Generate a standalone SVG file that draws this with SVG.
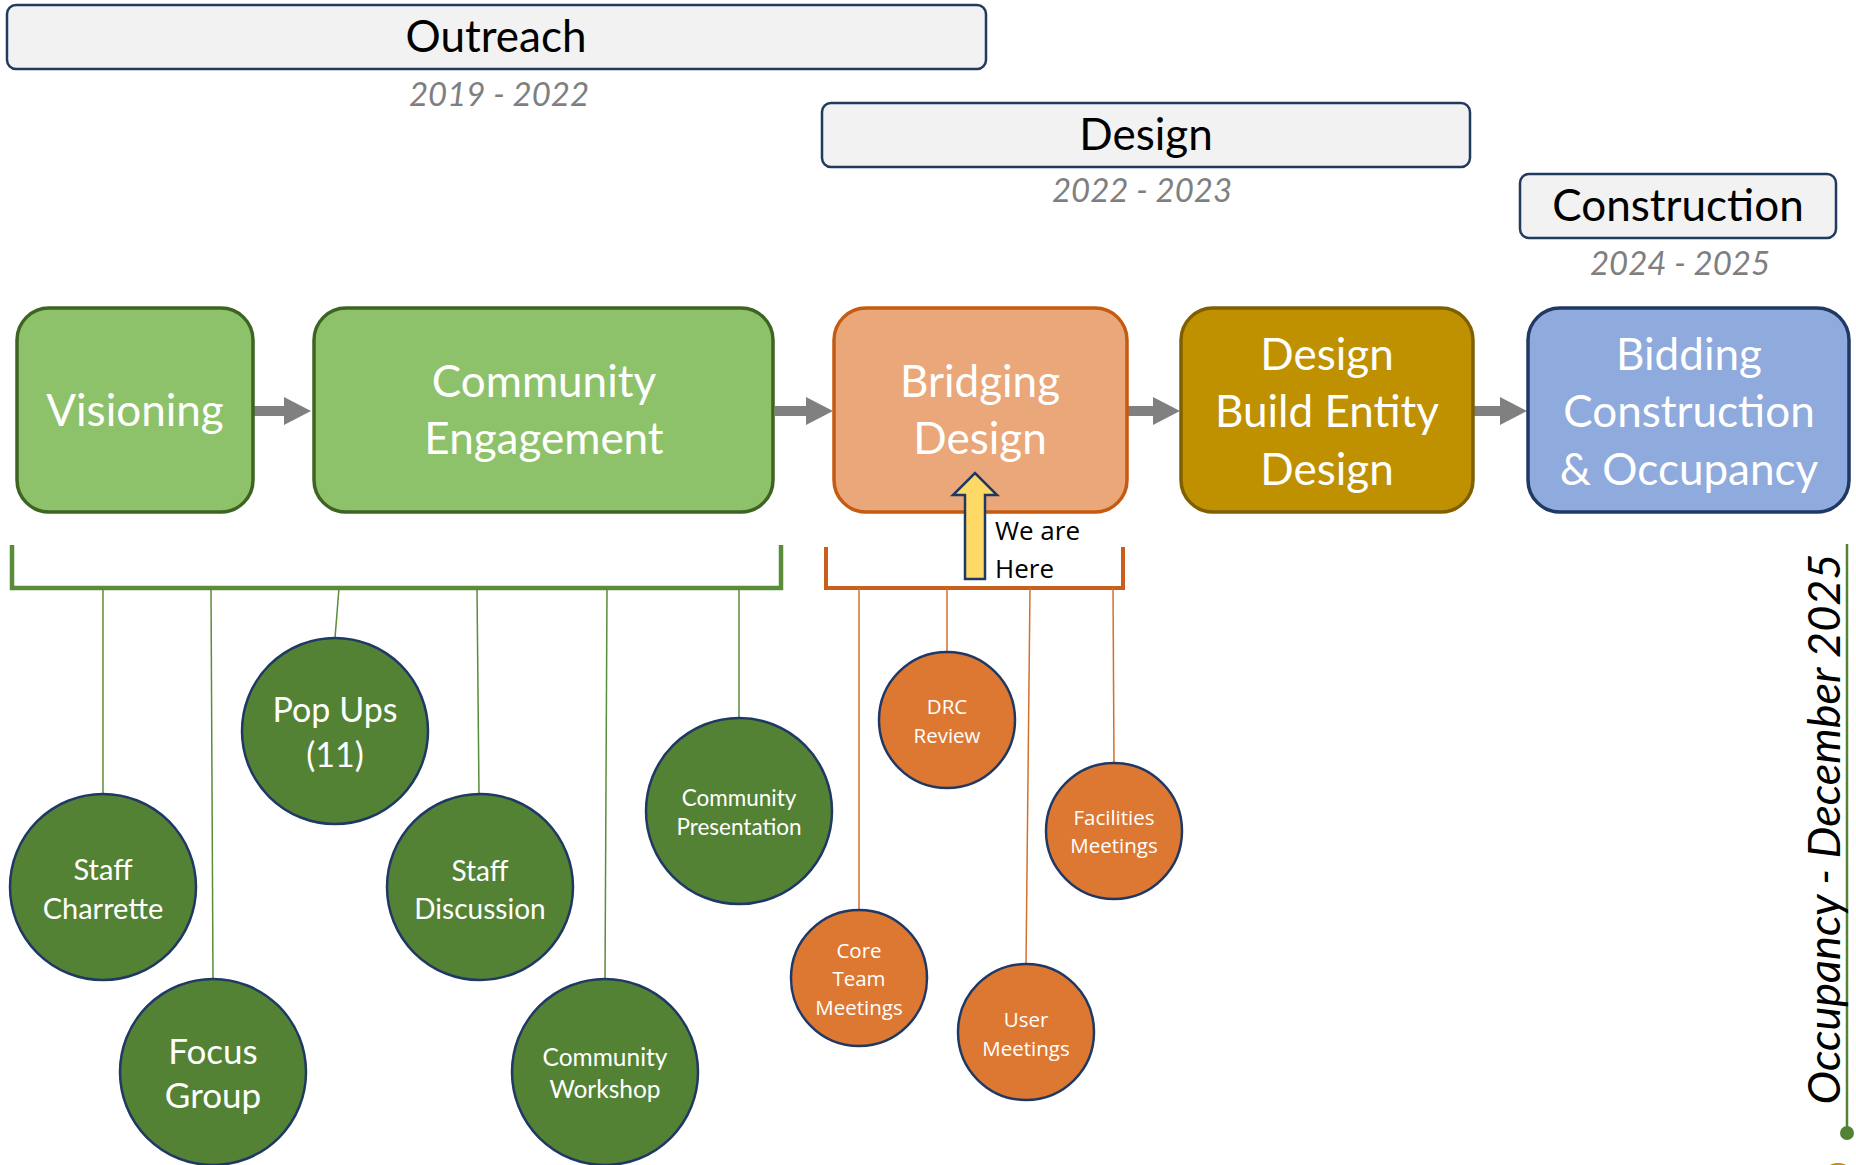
<svg xmlns="http://www.w3.org/2000/svg" width="1856" height="1165" viewBox="0 0 1856 1165">
<style>
.hdr{fill:#F2F2F2;stroke:#223A5E;stroke-width:2.5}
.hdrt{font-family:Lato,"Liberation Sans",sans-serif;font-size:44px;fill:#000;text-anchor:middle}
.yr{font-family:Lato,"Liberation Sans",sans-serif;font-size:33px;font-style:italic;fill:#7F7F7F;text-anchor:middle}
.bt{font-family:Lato,"Liberation Sans",sans-serif;font-size:44px;fill:#fff;text-anchor:middle}
.ct{font-family:Lato,"Liberation Sans",sans-serif;fill:#fff;text-anchor:middle}
.ot{font-family:"Open Sans","DejaVu Sans",sans-serif;font-size:20.5px;fill:#fff;text-anchor:middle}
.gc{fill:#548235;stroke:#203864;stroke-width:2.5}
.oc{fill:#DD7833;stroke:#203864;stroke-width:2.5}
.arr{fill:#808080}
.gl{stroke:#5A8C3A;stroke-width:1.5;fill:none}
.ol{stroke:#D2712F;stroke-width:1.5;fill:none}
</style>

<g id="hdr-outreach">
<rect class="hdr" x="7" y="5" width="979" height="64" rx="9"/>
<text class="hdrt" x="496" y="52">Outreach</text>
<text class="yr" x="499" y="106">2019 - 2022</text>
</g>
<g id="hdr-design">
<rect class="hdr" x="822" y="103" width="648" height="64" rx="9"/>
<text class="hdrt" x="1146" y="150">Design</text>
<text class="yr" x="1142" y="202">2022 - 2023</text>
</g>
<g id="hdr-construction">
<rect class="hdr" x="1520" y="174" width="316" height="64" rx="9"/>
<text class="hdrt" x="1678" y="221">Construction</text>
<text class="yr" x="1680" y="275">2024 - 2025</text>
</g>

<g id="connectors">
<polygon class="arr" points="253,406 284,406 284,397 311,411 284,425 284,416 253,416"/>
<polygon class="arr" points="775,406 806,406 806,397 833,411 806,425 806,416 775,416"/>
<polygon class="arr" points="1128,406 1153,406 1153,397 1180,411 1153,425 1153,416 1128,416"/>
<polygon class="arr" points="1474,406 1500,406 1500,397 1527,411 1500,425 1500,416 1474,416"/>
<path d="M12,545 V588 H781 V545" fill="none" stroke="#5A8C3A" stroke-width="4.5"/>
<path d="M826,547 V588 H1123 V547" fill="none" stroke="#C8601C" stroke-width="4"/>
<line class="gl" x1="103" y1="588" x2="103" y2="795"/>
<line class="gl" x1="211" y1="588" x2="213" y2="980"/>
<line class="gl" x1="339" y1="588" x2="335" y2="638"/>
<line class="gl" x1="477" y1="588" x2="479" y2="795"/>
<line class="gl" x1="607" y1="588" x2="605" y2="980"/>
<line class="gl" x1="739" y1="588" x2="739" y2="719"/>
<line class="ol" x1="859" y1="588" x2="859" y2="911"/>
<line class="ol" x1="947" y1="588" x2="947" y2="653"/>
<line class="ol" x1="1030" y1="588" x2="1026" y2="965"/>
<line class="ol" x1="1113" y1="588" x2="1114" y2="764"/>
<line x1="1847" y1="544" x2="1847" y2="1131" stroke="#548235" stroke-width="2.5"/>
<circle cx="1847" cy="1133" r="7" fill="#548235"/>
</g>

<g id="visioning">
<rect x="17" y="308" width="236" height="204" rx="32" fill="#8DC26B" stroke="#3E6423" stroke-width="3.5"/>
<text class="bt" x="135" y="426">Visioning</text>
</g>
<g id="community-engagement">
<rect x="314" y="308" width="459" height="204" rx="32" fill="#8DC26B" stroke="#3E6423" stroke-width="3.5"/>
<text class="bt" x="544" y="397">Community</text>
<text class="bt" x="544" y="454">Engagement</text>
</g>
<g id="bridging-design">
<rect x="834" y="308" width="293" height="204" rx="32" fill="#E9A77A" stroke="#C55A11" stroke-width="3.5"/>
<text class="bt" x="980" y="397">Bridging</text>
<text class="bt" x="980" y="454">Design</text>
</g>
<g id="design-build">
<rect x="1181" y="308" width="292" height="204" rx="32" fill="#BF9000" stroke="#7F6000" stroke-width="3.5"/>
<text class="bt" x="1327" y="370">Design</text>
<text class="bt" x="1327" y="427">Build Entity</text>
<text class="bt" x="1327" y="485">Design</text>
</g>
<g id="bidding">
<rect x="1528" y="308" width="321" height="204" rx="32" fill="#8FAADC" stroke="#1F3864" stroke-width="3.5"/>
<text class="bt" x="1689" y="370">Bidding</text>
<text class="bt" x="1689" y="427">Construction</text>
<text class="bt" x="1689" y="485">&amp; Occupancy</text>
</g>

<g id="we-are-here">
<polygon points="965,579 985,579 985,495 997,495 975,473 953,495 965,495" fill="#FFD966" stroke="#203864" stroke-width="2.5" stroke-linejoin="miter"/>
<text font-family="'Open Sans','DejaVu Sans',sans-serif" font-size="26" fill="#000" x="995" y="540">We are</text>
<text font-family="'Open Sans','DejaVu Sans',sans-serif" font-size="26" fill="#000" x="995" y="578">Here</text>
</g>

<g id="staff-charrette">
<circle class="gc" cx="103" cy="887" r="93"/>
<text class="ct" font-size="29" x="103" y="880">Staff</text>
<text class="ct" font-size="29" x="103" y="919">Charrette</text>
</g>
<g id="focus-group">
<circle class="gc" cx="213" cy="1072" r="93"/>
<text class="ct" font-size="35" x="213" y="1064">Focus</text>
<text class="ct" font-size="35" x="213" y="1108">Group</text>
</g>
<g id="pop-ups">
<circle class="gc" cx="335" cy="731" r="93"/>
<text class="ct" font-size="34" x="335" y="722">Pop Ups</text>
<text class="ct" font-size="34" x="335" y="767">(11)</text>
</g>
<g id="staff-discussion">
<circle class="gc" cx="480" cy="887" r="93"/>
<text class="ct" font-size="28" x="480" y="881">Staff</text>
<text class="ct" font-size="28" x="480" y="919">Discussion</text>
</g>
<g id="community-workshop">
<circle class="gc" cx="605" cy="1072" r="93"/>
<text class="ct" font-size="24.5" x="605" y="1066">Community</text>
<text class="ct" font-size="24.5" x="605" y="1098">Workshop</text>
</g>
<g id="community-presentation">
<circle class="gc" cx="739" cy="811" r="93"/>
<text class="ct" font-size="22.5" x="739" y="806">Community</text>
<text class="ct" font-size="22.5" x="739" y="835">Presentation</text>
</g>

<g id="drc-review">
<circle class="oc" cx="947" cy="720" r="68"/>
<text class="ot" x="947" y="714">DRC</text>
<text class="ot" x="947" y="743">Review</text>
</g>
<g id="facilities-meetings">
<circle class="oc" cx="1114" cy="831" r="68"/>
<text class="ot" x="1114" y="825">Facilities</text>
<text class="ot" x="1114" y="853">Meetings</text>
</g>
<g id="core-team-meetings">
<circle class="oc" cx="859" cy="978" r="68"/>
<text class="ot" x="859" y="958">Core</text>
<text class="ot" x="859" y="986">Team</text>
<text class="ot" x="859" y="1015">Meetings</text>
</g>
<g id="user-meetings">
<circle class="oc" cx="1026" cy="1032" r="68"/>
<text class="ot" x="1026" y="1027">User</text>
<text class="ot" x="1026" y="1056">Meetings</text>
</g>

<g id="occupancy">
<text font-family="Lato,'Liberation Sans',sans-serif" font-size="45" font-style="italic" fill="#000" text-anchor="middle" transform="translate(1840,829) rotate(-90)">Occupancy - December 2025</text>
</g>
<circle cx="1838" cy="1180" r="17" fill="#BF9000"/>
</svg>
